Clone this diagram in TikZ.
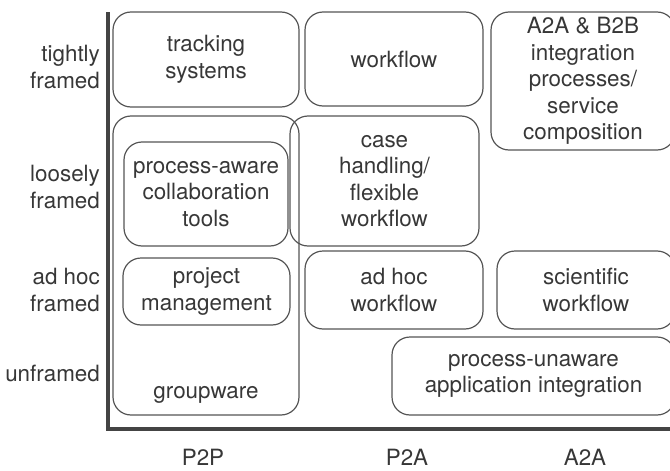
\documentclass[tikz,border=0pt]{standalone}
\usepackage{fontspec}
\setmainfont{TeX Gyre Heros}
\usetikzlibrary{positioning}
\definecolor{framegray}{RGB}{85,85,85}
\definecolor{axisgray}{RGB}{68,68,68}
\definecolor{textgray}{RGB}{55,55,55}

\begin{document}
\begin{tikzpicture}[x=1pt, y=-1pt,
    box/.style={
        draw=framegray, line width=1.2pt,
        rounded corners=18pt, align=center,
        text=textgray, inner sep=0pt,
        font=\fontsize{22.4}{26.5}\selectfont
    },
    lbl/.style={align=right, anchor=east,
        text=textgray, inner sep=0pt,
        font=\fontsize{22.4}{26.5}\selectfont},
    axis/.style={draw=axisgray, line width=3.2pt}
]
\useasboundingbox (0,0) rectangle (670,471);

% axes
\coordinate (top) at (108,12);
\coordinate (origin) at (108,429);
\coordinate (end) at (675,429);
\draw[axis] (top) -- (origin) -- (end);

% P2P column
\node[box, minimum width=186pt, minimum height=95pt] (track) at (206,59.5) {tracking\\systems};
\node[box, minimum width=186pt, minimum height=299pt] (group) at (206,265.5) {};
\node[box, draw=none] (grouptext) at (206,395) {groupware};
\node[box, minimum width=164pt, minimum height=104pt] (collab) at (206,194) {process-aware\\collaboration\\tools};
\node[box, minimum width=167pt, minimum height=67pt] (project) at (206.5,291.5) {project\\management};

% P2A column
\node[box, minimum width=178pt, minimum height=94pt] (wf) at (394,59) {workflow};
\node[box, minimum width=189pt, minimum height=130pt] (case) at (384.5,181) {case\\handling/\\flexible\\workflow};
\node[box, minimum width=178pt, minimum height=78pt] (adhoc) at (394,290) {ad hoc\\workflow};

% A2A column
\node[box, minimum width=184pt, minimum height=138pt] (integ) at (583,81) {A2A \& B2B\\integration\\processes/\\service\\composition};
\node[box, minimum width=178pt, minimum height=78pt] (sci) at (586,290) {scientific\\workflow};
\node[box, minimum width=283pt, minimum height=78pt] (unaware) at (533.5,376) {process-unaware\\application integration};

% row labels
\node[lbl] (tight) at (100,67) {tightly\\framed};
\node[lbl] (loose) at (100,187) {loosely\\framed};
\node[lbl] (adhocf) at (100,290) {ad hoc\\framed};
\node[lbl] (unfr) at (100,373) {unframed};

% column labels
\node[box, draw=none] (ptp) at (203,457) {P2P};
\node[box, draw=none] (pta) at (407,457) {P2A};
\node[box, draw=none] (ata) at (585,457) {A2A};
\end{tikzpicture}
\end{document}
